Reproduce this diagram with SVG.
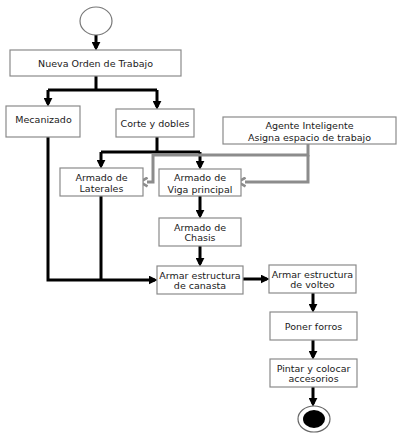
<svg xmlns="http://www.w3.org/2000/svg" width="400" height="434" viewBox="0 0 400 434">
<style>
.box{fill:#fff;stroke:#8a8a8a;stroke-width:1.2}
.t{font-family:"DejaVu Sans",Verdana,sans-serif;font-size:9.5px;fill:#1a1a1a;text-anchor:middle}
.k{fill:none;stroke:#000;stroke-width:3}
.g{fill:none;stroke:#8c8c8c;stroke-width:3}
</style>
<defs>
<marker id="ah" viewBox="0 0 10 10" refX="7" refY="5" markerWidth="9" markerHeight="9" markerUnits="userSpaceOnUse" orient="auto">
<path d="M0,0 L10,5 L0,10 z" fill="#000"/>
</marker>
<marker id="gh" viewBox="0 0 10 10" refX="2" refY="5" markerWidth="11" markerHeight="11" markerUnits="userSpaceOnUse" orient="auto">
<path d="M1.5,1 L8.5,5 L1.5,9" fill="none" stroke="#8c8c8c" stroke-width="2.4"/>
</marker>
</defs>
<rect width="400" height="434" fill="#fff"/>
<g id="connectors">
<path class="k" d="M96,35 V48" marker-end="url(#ah)"/>
<path class="k" d="M96,76 V90 M48,90 H157"/>
<path class="k" d="M48,90 V104" marker-end="url(#ah)"/>
<path class="k" d="M157,90 V107" marker-end="url(#ah)"/>
<path class="k" d="M157,137 V152 M101,152 H200"/>
<path class="k" d="M101,152 V166" marker-end="url(#ah)"/>
<path class="k" d="M200,152 V167" marker-end="url(#ah)"/>
<path class="g" d="M308,144 V155 H153 V182 H147" marker-end="url(#gh)"/>
<path class="g" d="M308,155 V182 H245" marker-end="url(#gh)"/>
<path class="k" d="M200,196 V216" marker-end="url(#ah)"/>
<path class="k" d="M200,246 V264" marker-end="url(#ah)"/>
<path class="k" d="M48,137 V280 H155" marker-end="url(#ah)"/>
<path class="k" d="M101,196 V280"/>
<path class="k" d="M243,279 H267" marker-end="url(#ah)"/>
<path class="k" d="M313,293 V310" marker-end="url(#ah)"/>
<path class="k" d="M313,340 V357" marker-end="url(#ah)"/>
<path class="k" d="M313,387 V404" marker-end="url(#ah)"/>
</g>
<g id="start"><ellipse cx="96" cy="21" rx="16" ry="14" fill="#fff" stroke="#777" stroke-width="1.2"/></g>
<g id="nueva"><rect class="box" x="10" y="50" width="171" height="26"/><text class="t" x="95.5" y="66.5">Nueva Orden de Trabajo</text></g>
<g id="mecanizado"><rect class="box" x="6" y="106" width="74" height="31"/><text class="t" x="43.5" y="123">Mecanizado</text></g>
<g id="corte"><rect class="box" x="116" y="109" width="78" height="28"/><text class="t" x="155" y="126.5">Corte y dobles</text></g>
<g id="agente"><rect class="box" x="223" y="117" width="173" height="27"/><text class="t" x="309.5" y="128.5">Agente Inteligente</text><text class="t" x="309.5" y="140.5">Asigna espacio de trabajo</text></g>
<g id="laterales"><rect class="box" x="60" y="168" width="83" height="28"/><text class="t" x="101.5" y="180.5">Armado de</text><text class="t" x="101.5" y="191.5">Laterales</text></g>
<g id="viga"><rect class="box" x="159" y="169" width="82" height="27"/><text class="t" x="200" y="181">Armado de</text><text class="t" x="200" y="192.5">Viga principal</text></g>
<g id="chasis"><rect class="box" x="159" y="218" width="82" height="28"/><text class="t" x="200" y="230.5">Armado de</text><text class="t" x="200" y="241">Chasis</text></g>
<g id="canasta"><rect class="box" x="157" y="266" width="86" height="28"/><text class="t" x="200" y="278.5">Armar estructura</text><text class="t" x="200" y="289">de canasta</text></g>
<g id="volteo"><rect class="box" x="269" y="265" width="87" height="28"/><text class="t" x="312.5" y="277.5">Armar estructura</text><text class="t" x="312.5" y="288">de volteo</text></g>
<g id="forros"><rect class="box" x="270" y="312" width="87" height="28"/><text class="t" x="313.5" y="329.5">Poner forros</text></g>
<g id="pintar"><rect class="box" x="270" y="359" width="87" height="28"/><text class="t" x="313.5" y="371.5">Pintar y colocar</text><text class="t" x="313.5" y="382">accesorios</text></g>
<g id="end"><ellipse cx="314" cy="419" rx="16" ry="13" fill="#fff" stroke="#666" stroke-width="1.2"/><ellipse cx="314" cy="419" rx="11" ry="9" fill="#000"/></g>
</svg>
